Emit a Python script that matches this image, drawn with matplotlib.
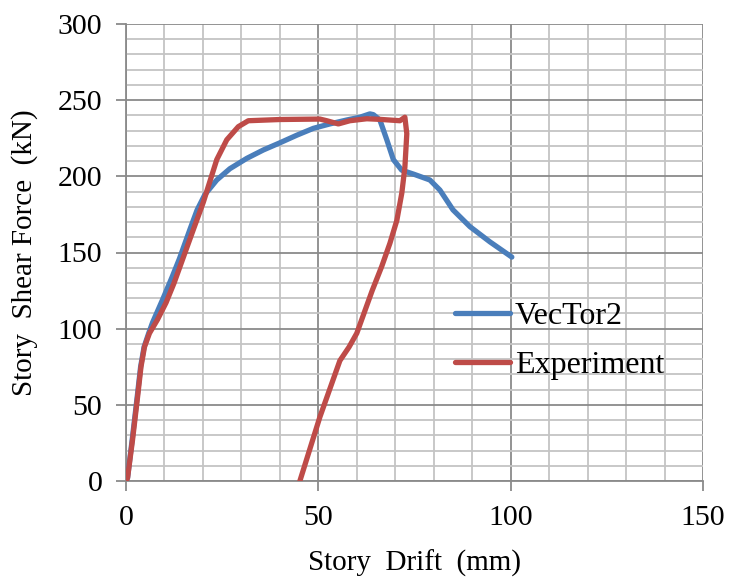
import matplotlib
matplotlib.use("Agg")
import matplotlib.pyplot as plt
from matplotlib.ticker import MultipleLocator

# VecTor2 analysis: story drift (mm) vs story shear force (kN)
vt_drift = [0, 0.4, 1.6, 2.9, 3.8, 4.7, 5.9, 6.9, 9.5, 12.0, 13.9, 16.6,
            18.5, 20.5, 23.6, 27.0, 31.4, 35.7, 40.0, 44.4, 48.7, 53.0, 57.4,
            60.8, 63.4, 64.3, 66.0, 67.8, 69.5, 71.7, 74.7, 79.0, 81.6, 85.0,
            89.4, 94.6, 100.3]
vt_force = [0, 2, 27, 55, 75, 88, 97, 104, 119, 134, 146, 165,
            178, 188, 197.6, 205, 211.8, 217.3, 222, 227, 231.5, 234.4, 237,
            238.8, 241, 240.5, 237, 224, 211, 204, 201.5, 197.6, 191, 178,
            167, 157, 147]

# Experimental test: loading branch followed by unloading branch
ex_drift = [0, 0.4, 1.7, 3.0, 3.9, 4.8, 6.1, 8.2, 10.4, 12.5, 14.5, 17.5, 20.1,
            23.6, 26.2, 29.2, 31.8, 40.0, 50.4, 52.2, 55.2, 58.2, 62.6, 66.0,
            71.2, 72.5, 73.0, 72.5, 71.7, 70.4, 68.6, 66.5, 64.0, 60.0, 58.0,
            55.6, 50.4, 45.2]
ex_force = [0, 2, 27, 55, 75, 88, 97, 106, 117, 130, 144, 165, 183,
            211, 224, 232.6, 236.5, 237.3, 237.6, 236.5, 234.4, 236.5, 237.8, 237.4,
            236.5, 238.8, 228, 206, 189, 171, 156, 141, 125, 97, 88,
            79, 42, 0]

x_ticks = [0, 50, 100, 150]
y_ticks = [0, 50, 100, 150, 200, 250, 300]

plt.rcParams['font.family'] = ['Liberation Serif', 'DejaVu Serif']

fig = plt.figure(figsize=(7.32, 5.83), dpi=100)
ax = fig.add_axes([126/732, 1-481/583, 577/732, 457/583])

ax.set_xlim(0, 150)
ax.set_ylim(0, 300)
ax.set_xticks(x_ticks)
ax.set_yticks(y_ticks)
ax.xaxis.set_minor_locator(MultipleLocator(10))
ax.yaxis.set_minor_locator(MultipleLocator(10))

ax.grid(which='minor', color='#c4c4c4', linewidth=1.3, zorder=0)
ax.grid(which='major', color='#8a8a8a', linewidth=1.3, zorder=0.5)
ax.set_axisbelow(True)

for side in ['top', 'right']:
    ax.spines[side].set_visible(False)
for side in ['left', 'bottom']:
    ax.spines[side].set_color('#8a8a8a')
    ax.spines[side].set_linewidth(1.3)

ax.tick_params(which='major', direction='out', length=7, width=1.3,
               color='#8a8a8a', labelsize=21.5, pad=10)
ax.tick_params(which='minor', length=0)

ax.plot(vt_drift, vt_force, color='#4a7ebb', linewidth=3.8,
        solid_capstyle='round', solid_joinstyle='round', label='VecTor2', zorder=3)
ax.plot(ex_drift, ex_force, color='#be4b48', linewidth=3.8,
        solid_capstyle='round', solid_joinstyle='round', label='Experiment', zorder=3)

ax.set_xlabel('Story  Drift  (mm)', fontsize=21, labelpad=14)
ax.set_ylabel('Story  Shear Force  (kN)', fontsize=21, labelpad=14)

leg = ax.legend(loc='center left', bbox_to_anchor=(455/732, 1-341/583),
                bbox_transform=fig.transFigure, frameon=False, fontsize=23,
                handlelength=1.72, handletextpad=0.16, labelspacing=0.6,
                borderpad=0, borderaxespad=0)

fig.savefig('out.png', dpi=100, facecolor='white')
